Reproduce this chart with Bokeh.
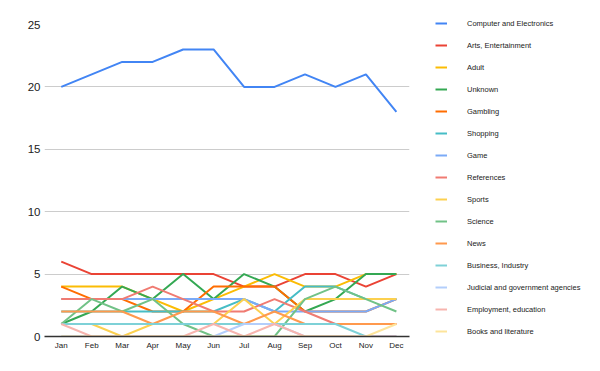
from bokeh.plotting import figure
from bokeh.models import Range1d, Legend, LegendItem, FixedTicker
from bokeh.embed import file_html
from bokeh.resources import INLINE

months = ["Jan", "Feb", "Mar", "Apr", "May", "Jun", "Jul", "Aug", "Sep", "Oct", "Nov", "Dec"]

computer = [20, 21, 22, 22, 23, 23, 20, 20, 21, 20, 21, 18]
arts = [6, 5, 5, 5, 5, 5, 4, 4, 5, 5, 4, 5]
adult = [4, 4, 4, 3, 2, 3, 4, 5, 4, 4, 5, 5]
unknown = [1, 2, 4, 3, 5, 3, 5, 4, 2, 3, 5, 5]
gambling = [4, 3, 3, 2, 2, 4, 4, 4, 2, 2, 2, 3]
shopping = [2, 2, 2, 2, 2, 2, 3, 2, 4, 4, 3, 3]
game = [3, 3, 3, 3, 3, 3, 3, 2, 2, 2, 2, 3]
references = [3, 3, 3, 4, 3, 2, 2, 3, 2, 1, 1, 1]
sports = [1, 1, 0, 1, 1, 1, 3, 1, 3, 3, 3, 3]
science = [1, 3, 2, 3, 1, 0, 0, 0, 3, 4, 3, 2]
news = [2, 2, 2, 1, 2, 2, 1, 2, 1, 1, 1, 1]
business = [1, 1, 1, 1, 1, 1, 1, 1, 1, 1, 0, 0]
judicial = [0, 0, 0, 0, 0, 0, 1, 1, 0, 0, 0, 0]
employment = [1, 0, 0, 0, 0, 1, 0, 1, 0, 0, 0, 0]
books = [0, 0, 0, 0, 0, 0, 0, 0, 0, 0, 0, 1]

series_names = [
    "Computer and Electronics", "Arts, Entertainment", "Adult", "Unknown",
    "Gambling", "Shopping", "Game", "References", "Sports", "Science", "News",
    "Business, Industry", "Judicial and government agencies",
    "Employment, education", "Books and literature",
]
series_values = [computer, arts, adult, unknown, gambling, shopping, game,
                 references, sports, science, news, business, judicial,
                 employment, books]
colors = ["#4285F4", "#EA4335", "#FBBC04", "#34A853", "#FF6D01", "#46BDC6",
          "#7BAAF7", "#F07B72", "#FCD04F", "#71C287", "#FF994D", "#7ED1D7",
          "#B3CEFB", "#F7B4AE", "#FDE49B"]

y_ticks = [0, 5, 10, 15, 20, 25]

x = list(range(len(months)))

p = figure(frame_width=365, frame_height=312, output_backend="svg",
           toolbar_location=None,
           x_range=Range1d(-0.55, len(months) - 1 + 0.43),
           y_range=Range1d(0, 25),
           min_border_left=44, min_border_top=24, min_border_bottom=22,
           min_border_right=10)
p.outline_line_color = None
p.background_fill_color = "white"

items = []
for name, vals, c in zip(series_names, series_values, colors):
    r = p.line(x, vals, line_color=c, line_width=2)
    items.append(LegendItem(label=name, renderers=[r]))

p.xaxis.ticker = FixedTicker(ticks=x)
p.xaxis.major_label_overrides = {i: m for i, m in enumerate(months)}
p.xaxis.major_tick_line_color = None
p.xaxis.minor_tick_line_color = None
p.xaxis.axis_line_color = "#333333"
p.xaxis.axis_line_width = 1.5
p.xaxis.major_label_text_font = "Liberation Sans"
p.xaxis.major_label_text_font_size = "8px"
p.xaxis.major_label_text_color = "#222222"
p.xaxis.major_label_standoff = -2

p.yaxis.ticker = FixedTicker(ticks=y_ticks)
p.yaxis.major_tick_line_color = None
p.yaxis.minor_tick_line_color = None
p.yaxis.axis_line_color = None
p.yaxis.major_label_text_font = "Liberation Sans"
p.yaxis.major_label_text_font_size = "11.5px"
p.yaxis.major_label_text_color = "#222222"
p.yaxis.major_label_standoff = -2

p.xgrid.grid_line_color = None
p.ygrid.grid_line_color = "#cccccc"
p.ygrid.ticker = FixedTicker(ticks=y_ticks)

legend = Legend(items=items, location=(26, -2))
legend.label_text_font = "Liberation Sans"
legend.label_text_font_size = "7.5px"
legend.label_text_color = "#222222"
legend.glyph_width = 12
legend.glyph_height = 14
legend.label_height = 14
legend.spacing = 8
legend.label_standoff = 20
legend.margin = 0
legend.padding = 0
legend.border_line_color = None
legend.background_fill_alpha = 0
p.add_layout(legend, "right")

open("out.html", "w").write(file_html(p, INLINE))
